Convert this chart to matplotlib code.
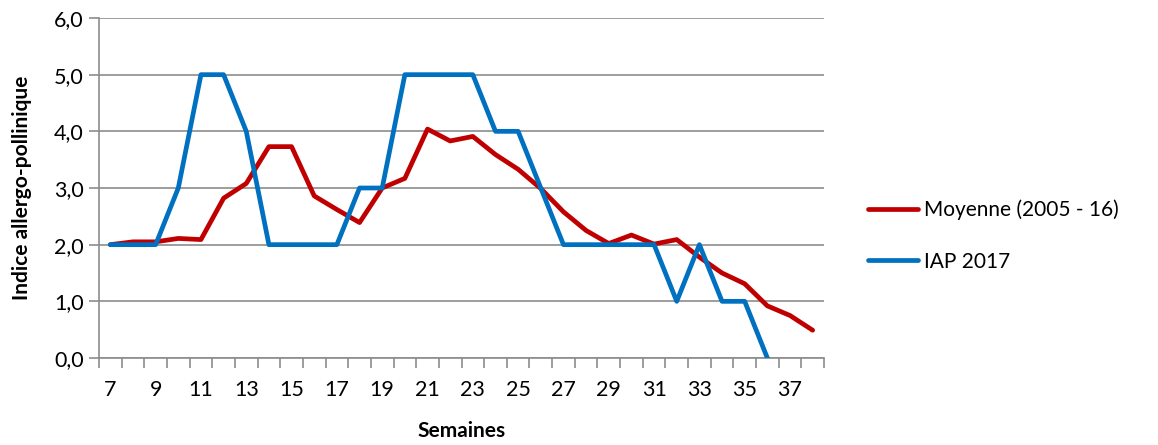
import matplotlib
matplotlib.use("Agg")
import matplotlib.pyplot as plt
from matplotlib.ticker import FuncFormatter, MultipleLocator

plt.rcParams['font.family'] = ['Lato', 'DejaVu Sans']

semaines = list(range(7, 39))
moyenne = [2.0, 2.05, 2.05, 2.11, 2.09, 2.82, 3.08, 3.73, 3.73, 2.86, 2.62, 2.39,
           3.0, 3.17, 4.04, 3.83, 3.91, 3.59, 3.33, 2.99, 2.58, 2.25, 2.02, 2.17,
           2.01, 2.09, 1.78, 1.5, 1.31, 0.92, 0.75, 0.49]
semaines_iap = list(range(7, 37))
iap_2017 = [2, 2, 2, 3, 5, 5, 4, 2, 2, 2, 2, 3, 3, 5, 5, 5, 5, 4, 4, 3,
            2, 2, 2, 2, 2, 1, 2, 1, 1, 0]

fig = plt.figure(figsize=(11.58, 4.45), dpi=100)
ax = fig.add_axes([99 / 1158, 1 - 358 / 445, (824 - 99) / 1158, (358 - 18) / 445])

ax.plot(semaines, moyenne, color="#C00000", lw=3.4, label="Moyenne (2005 - 16)",
        solid_capstyle="round", solid_joinstyle="round", zorder=3)
ax.plot(semaines_iap, iap_2017, color="#0070C0", lw=3.4, label="IAP 2017",
        solid_capstyle="round", solid_joinstyle="round", zorder=3)

ax.set_xlim(6.5, 38.5)
ax.set_ylim(0, 6)
ax.set_xticks(range(7, 39, 2))
ax.xaxis.set_minor_locator(MultipleLocator(1, offset=0.5))
ax.yaxis.set_major_locator(MultipleLocator(1))
ax.yaxis.set_major_formatter(FuncFormatter(lambda v, p: f"{v:.1f}".replace(".", ",")))

ax.grid(axis="y", color="#8c8c8c", lw=1.2)
ax.set_axisbelow(True)
for s in ["top", "right"]:
    ax.spines[s].set_visible(False)
for s in ["left", "bottom"]:
    ax.spines[s].set_color("#8c8c8c")
    ax.spines[s].set_linewidth(1.2)

ax.tick_params(axis="x", which="major", length=0, labelsize=15.5, pad=16)
ax.tick_params(axis="x", which="minor", length=7, width=1.2, color="#8c8c8c", direction="out")
ax.tick_params(axis="y", length=7, width=1.2, color="#8c8c8c", labelsize=15.5, pad=4)

ax.set_xlabel("Semaines", fontsize=15, fontweight="bold", labelpad=15)
ax.set_ylabel("Indice allergo-pollinique", fontsize=15, fontweight="bold", labelpad=16)

ax.legend(loc="center left", bbox_to_anchor=(1.035, 0.36), frameon=False, fontsize=15,
          handlelength=2.4, handletextpad=0.3, labelspacing=1.5)

fig.savefig("out.png", dpi=100)
